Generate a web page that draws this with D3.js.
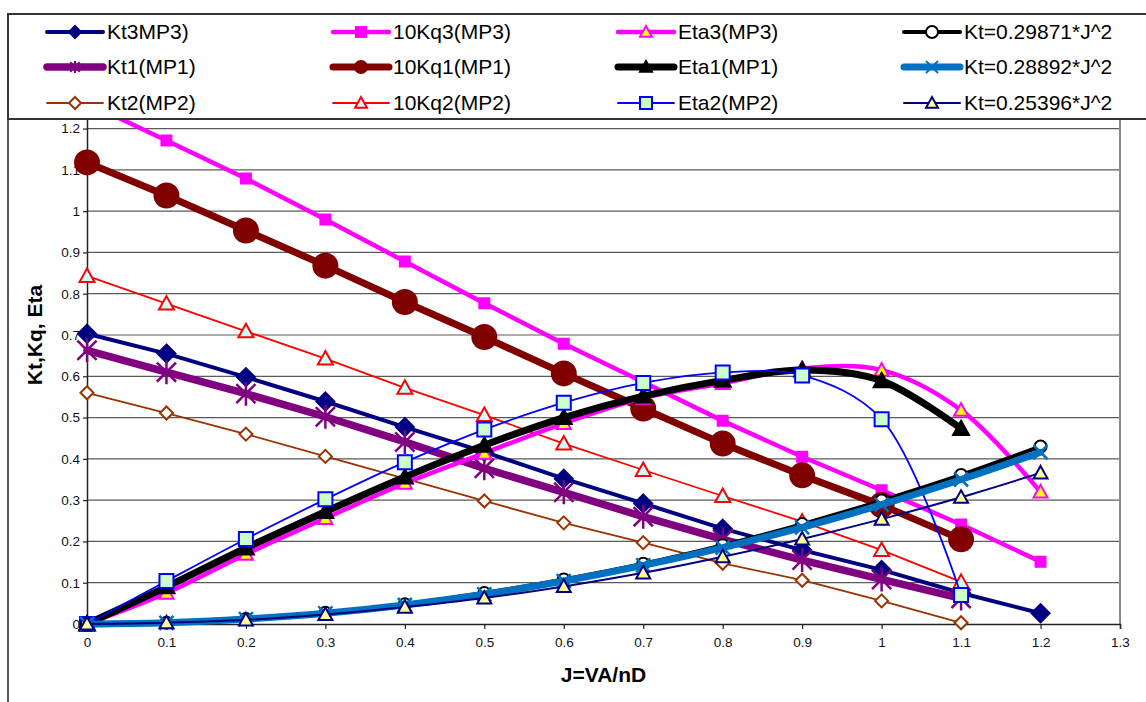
<!DOCTYPE html>
<html>
<head>
<meta charset="utf-8">
<script src="https://cdn.jsdelivr.net/npm/d3@7"></script>
<style>
    body { margin: 0; background: #fff; }
    text { font-family: "Liberation Sans", Arial, sans-serif; }
</style>
</head>
<body>
<script>
// J values along the x axis
var jVals = [0, 0.1, 0.2, 0.3, 0.4, 0.5, 0.6, 0.7, 0.8, 0.9, 1.0, 1.1, 1.2];

var kt3 = [0.703, 0.655, 0.598, 0.539, 0.477, 0.417, 0.352, 0.292, 0.231, 0.179, 0.131, 0.075, 0.026];
var kt1 = [0.663, 0.610, 0.558, 0.502, 0.441, 0.377, 0.319, 0.260, 0.205, 0.155, 0.108, 0.062];
var kt2 = [0.560, 0.511, 0.460, 0.406, 0.352, 0.298, 0.245, 0.197, 0.147, 0.106, 0.056, 0.003];
var kq3 = [1.262, 1.171, 1.079, 0.980, 0.878, 0.777, 0.679, 0.586, 0.492, 0.405, 0.324, 0.241, 0.151];
var kq1 = [1.118, 1.038, 0.953, 0.868, 0.780, 0.695, 0.607, 0.522, 0.437, 0.360, 0.288, 0.205];
var kq2 = [0.843, 0.776, 0.709, 0.643, 0.572, 0.506, 0.437, 0.373, 0.310, 0.248, 0.179, 0.102];
var eta3 = [0, 0.075, 0.169, 0.256, 0.341, 0.414, 0.486, 0.547, 0.583, 0.619, 0.615, 0.518, 0.320];
var eta1 = [0, 0.090, 0.184, 0.272, 0.356, 0.433, 0.500, 0.552, 0.590, 0.615, 0.589, 0.473];
var eta2 = [0, 0.104, 0.206, 0.302, 0.392, 0.471, 0.536, 0.584, 0.609, 0.602, 0.496, 0.070];
var fitA = [0, 0.003, 0.012, 0.027, 0.048, 0.075, 0.108, 0.146, 0.191, 0.242, 0.299, 0.361, 0.430];
var fitB = [0, 0.003, 0.012, 0.026, 0.046, 0.072, 0.104, 0.142, 0.185, 0.234, 0.289, 0.350, 0.416];
var fitC = [0, 0.003, 0.010, 0.023, 0.041, 0.063, 0.091, 0.124, 0.163, 0.206, 0.254, 0.307, 0.366];

var seriesNames = ['Kt3MP3)', 'Kt1(MP1)', 'Kt2(MP2)',
    '10Kq3(MP3)', '10Kq1(MP1)', '10Kq2(MP2)',
    'Eta3(MP3)', 'Eta1(MP1)', 'Eta2(MP2)',
    'Kt=0.29871*J^2', 'Kt=0.28892*J^2', 'Kt=0.25396*J^2'];

var xTicks = [0, 0.1, 0.2, 0.3, 0.4, 0.5, 0.6, 0.7, 0.8, 0.9, 1, 1.1, 1.2, 1.3];
var yTicks = [0, 0.1, 0.2, 0.3, 0.4, 0.5, 0.6, 0.7, 0.8, 0.9, 1, 1.1, 1.2, 1.3, 1.4];

// styling per series (same order as seriesNames)
var styles = [
    { values: kt3, color: '#000080', width: 4, marker: 'diamond', r: 9, fill: '#000080' },
    { values: kt1, color: '#800080', width: 7.5, marker: 'star', r: 12, fill: 'none' },
    { values: kt2, color: '#993300', width: 1.8, marker: 'diamond', r: 6.5, fill: '#fff' },
    { values: kq3, color: '#FF00FF', width: 4.5, marker: 'square', r: 5, fill: '#FF00FF' },
    { values: kq1, color: '#800000', width: 7, marker: 'circle', r: 12, fill: '#800000' },
    { values: kq2, color: '#FF0000', width: 1.8, marker: 'triangle', r: 7.5, fill: '#CCFFFF' },
    { values: eta3, color: '#FF00FF', width: 4.5, marker: 'triangle', r: 7, fill: '#FFFF00', smooth: true },
    { values: eta1, color: '#000000', width: 7, marker: 'triangle', r: 8, fill: '#000000', smooth: true },
    { values: eta2, color: '#0000FF', width: 1.8, marker: 'square', r: 7, fill: '#CCFFCC', smooth: true },
    { values: fitA, color: '#000000', width: 4, marker: 'circle', r: 6, fill: '#fff', smooth: true },
    { values: fitB, color: '#0070C0', width: 7, marker: 'x', r: 7, fill: 'none', smooth: true },
    { values: fitC, color: '#000080', width: 2, marker: 'triangle', r: 7, fill: '#FFFF99', smooth: true }
];

var scr = { w: 1146, h: 702 };
var plot = { left: 87, right: 1120, top: 46, bottom: 624 };

var svg = d3.select('body')
    .append('svg')
    .attr('width', scr.w)
    .attr('height', scr.h);

var xScale = d3.scaleLinear()
    .domain([0, 1.3])
    .range([plot.left, plot.right]);

var yScale = d3.scaleLinear()
    .domain([0, 1.4])
    .range([plot.bottom, plot.top]);

var markerPath = function(type, r) {
    if (type == 'diamond') {
        return 'M0,' + (-r) + 'L' + r + ',0L0,' + r + 'L' + (-r) + ',0Z';
    } else if (type == 'square') {
        return 'M' + (-r) + ',' + (-r) + 'H' + r + 'V' + r + 'H' + (-r) + 'Z';
    } else if (type == 'triangle') {
        return 'M0,' + (-r) + 'L' + r + ',' + (r * 0.8) + 'L' + (-r) + ',' + (r * 0.8) + 'Z';
    } else if (type == 'circle') {
        return 'M' + r + ',0A' + r + ',' + r + ' 0 1,1 ' + (-r) + ',0A' + r + ',' + r + ' 0 1,1 ' + r + ',0Z';
    } else if (type == 'star') {
        var d = r * 0.8;
        return 'M0,' + (-r) + 'V' + r +
            'M' + (-d) + ',' + (-d) + 'L' + d + ',' + d +
            'M' + d + ',' + (-d) + 'L' + (-d) + ',' + d;
    } else { // x
        return 'M' + (-r) + ',' + (-r) + 'L' + r + ',' + r + 'M' + r + ',' + (-r) + 'L' + (-r) + ',' + r;
    }
}

// outer chart border (left side)
svg.append('line')
    .attr('x1', 8).attr('x2', 8)
    .attr('y1', 14).attr('y2', scr.h)
    .attr('stroke', '#555')
    .attr('stroke-width', 2);

// gridlines
svg.append('g')
    .classed('grid', true)
    .selectAll('line')
    .data(yTicks.slice(1))
    .enter()
    .append('line')
    .attr('x1', plot.left)
    .attr('x2', plot.right)
    .attr('y1', function(d) { return yScale(d); })
    .attr('y2', function(d) { return yScale(d); })
    .attr('stroke', '#5a5a5a')
    .attr('stroke-width', 1.2);

// plot area right border
svg.append('line')
    .attr('x1', plot.right).attr('x2', plot.right)
    .attr('y1', plot.top).attr('y2', plot.bottom)
    .attr('stroke', '#8c8c8c')
    .attr('stroke-width', 2);

var yAxis = d3.axisLeft(yScale)
    .tickValues(yTicks)
    .tickSize(4)
    .tickPadding(3)
    .tickFormat(d3.format('~g'));

var xAxis = d3.axisBottom(xScale)
    .tickValues(xTicks)
    .tickSize(5)
    .tickPadding(8)
    .tickFormat(d3.format('~g'));

var yG = svg.append('g')
    .attr('transform', 'translate(' + plot.left + ',0)')
    .call(yAxis);

var xG = svg.append('g')
    .attr('transform', 'translate(0,' + plot.bottom + ')')
    .call(xAxis);

[yG, xG].forEach(function(g) {
    g.selectAll('path.domain').attr('stroke', '#222').attr('stroke-width', 1.5);
    g.selectAll('.tick line').attr('stroke', '#222').attr('stroke-width', 1.2);
    g.selectAll('.tick text')
        .attr('fill', '#111')
        .style('font-size', '13.5px')
        .style('font-family', '"Liberation Sans", Arial, sans-serif');
});

// series
var lineStraight = d3.line()
    .x(function(d) { return xScale(d[0]); })
    .y(function(d) { return yScale(d[1]); });

var lineSmooth = d3.line()
    .x(function(d) { return xScale(d[0]); })
    .y(function(d) { return yScale(d[1]); })
    .curve(d3.curveCatmullRom.alpha(0.5));

var seriesG = svg.append('g').classed('series', true);

styles.forEach(function(s, i) {
    var pts = s.values.map(function(v, k) { return [jVals[k], v]; });
    var g = seriesG.append('g');
    g.append('path')
        .attr('d', s.smooth ? lineSmooth(pts) : lineStraight(pts))
        .attr('fill', 'none')
        .attr('stroke', s.color)
        .attr('stroke-width', s.width)
        .attr('stroke-linejoin', 'round')
        .attr('stroke-linecap', 'round');
    g.selectAll('path.mk')
        .data(pts)
        .enter()
        .append('path')
        .classed('mk', true)
        .attr('transform', function(d) {
            return 'translate(' + xScale(d[0]) + ',' + yScale(d[1]) + ')';
        })
        .attr('d', markerPath(s.marker, s.r))
        .attr('fill', s.fill)
        .attr('stroke', s.color)
        .attr('stroke-width', (s.marker == 'star' || s.marker == 'x') ? 2.5 : 2);
});

// legend
var legend = svg.append('g').classed('legend', true);
legend.append('rect')
    .attr('x', 8)
    .attr('y', 14)
    .attr('width', scr.w)
    .attr('height', 105)
    .attr('fill', '#fff')
    .attr('stroke', '#333')
    .attr('stroke-width', 2);

var colX = [47, 333, 618, 904];
var rowY = [32, 67, 103];

var items = legend.selectAll('g.item')
    .data(styles)
    .enter()
    .append('g')
    .classed('item', true)
    .attr('transform', function(d, i) {
        return 'translate(' + colX[Math.floor(i / 3)] + ',' + rowY[i % 3] + ')';
    });

items.append('line')
    .attr('x1', 0).attr('x2', 56)
    .attr('y1', 0).attr('y2', 0)
    .attr('stroke', function(d) { return d.color; })
    .attr('stroke-width', function(d) { return d.width; })
    .attr('stroke-linecap', 'round');

items.append('path')
    .attr('transform', 'translate(28,0)')
    .attr('d', function(d) { return markerPath(d.marker, Math.min(d.r, 6)); })
    .attr('fill', function(d) { return d.fill; })
    .attr('stroke', function(d) { return d.color; })
    .attr('stroke-width', 2);

items.append('text')
    .attr('x', 60)
    .attr('dy', '0.35em')
    .style('font-size', '21px')
    .attr('fill', '#000')
    .text(function(d, i) { return seriesNames[i]; });

// axis titles
svg.append('text')
    .attr('transform', 'translate(42,' + ((plot.top + plot.bottom) / 2) + ') rotate(-90)')
    .attr('text-anchor', 'middle')
    .style('font-size', '21px')
    .style('font-weight', 'bold')
    .text('Kt,Kq, Eta');

svg.append('text')
    .attr('x', (plot.left + plot.right) / 2)
    .attr('y', 682)
    .attr('text-anchor', 'middle')
    .style('font-size', '21px')
    .style('font-weight', 'bold')
    .text('J=VA/nD');
</script>
</body>
</html>
